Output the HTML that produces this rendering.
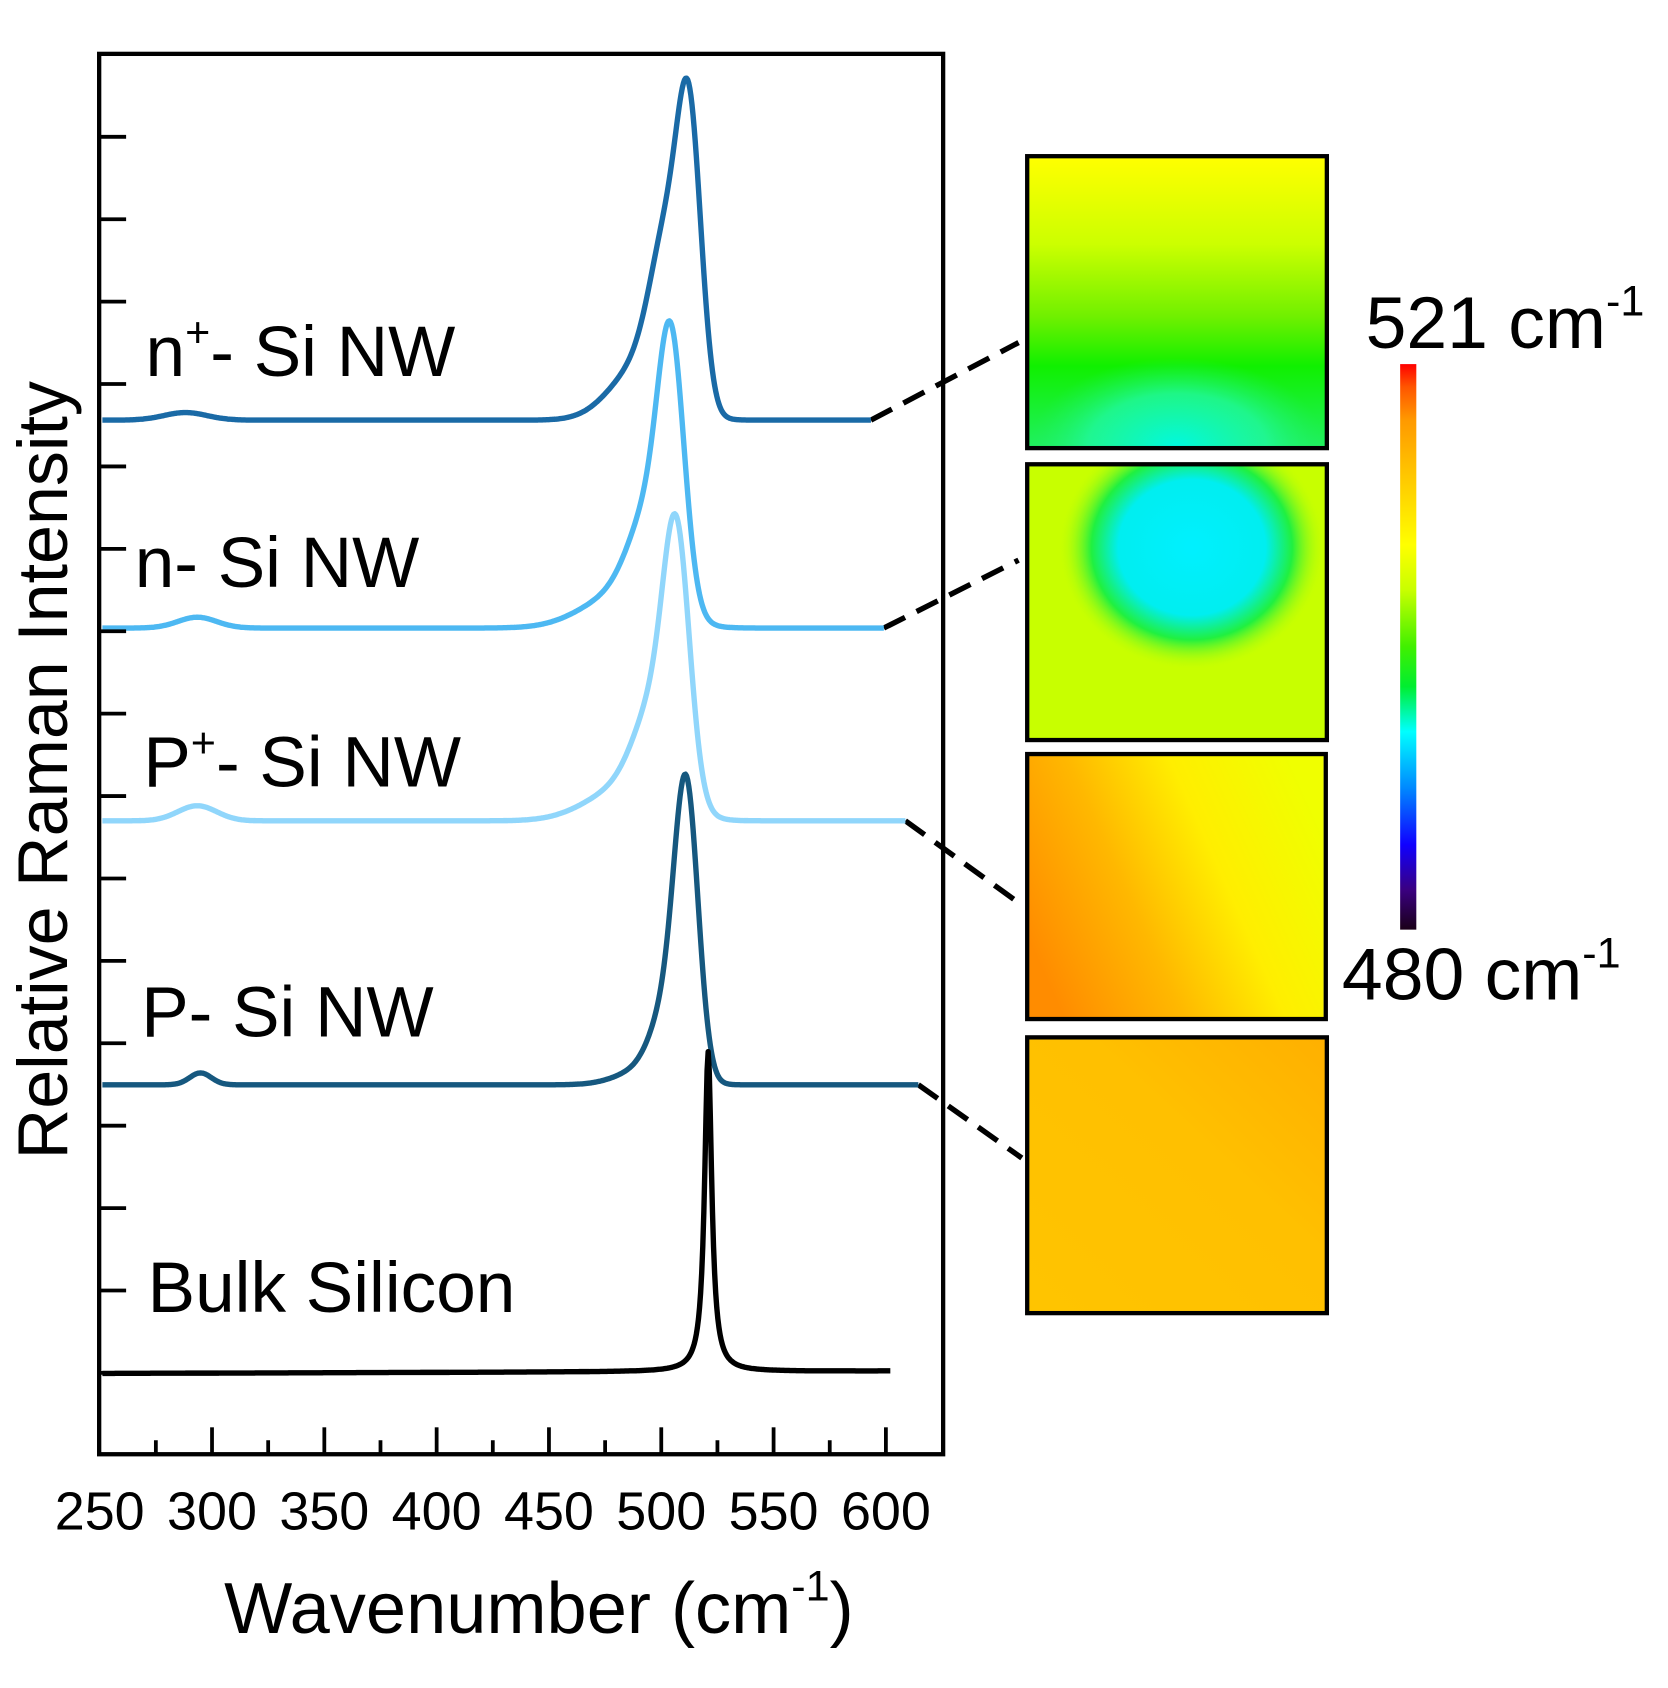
<!DOCTYPE html>
<html><head><meta charset="utf-8"><style>
html,body{margin:0;padding:0;background:#fff;}
svg{display:block;}
text{font-family:"Liberation Sans","DejaVu Sans",sans-serif;fill:#000;}
</style></head><body>
<svg id="s" width="1668" height="1688" viewBox="0 0 1547.5 1567" preserveAspectRatio="none" xmlns="http://www.w3.org/2000/svg">
<defs>
<linearGradient id="cb" x1="0" y1="1" x2="0" y2="0">
<stop offset="0" stop-color="#1a0018"/><stop offset="0.07" stop-color="#3a0080"/><stop offset="0.15" stop-color="#1000ff"/>
<stop offset="0.25" stop-color="#0088ff"/><stop offset="0.35" stop-color="#00ffff"/><stop offset="0.43" stop-color="#00ee30"/>
<stop offset="0.5" stop-color="#40f000"/><stop offset="0.6" stop-color="#c8ff00"/><stop offset="0.68" stop-color="#ffff00"/>
<stop offset="0.8" stop-color="#ffc800"/><stop offset="0.9" stop-color="#ff9a00"/><stop offset="0.96" stop-color="#ff5500"/><stop offset="1" stop-color="#ff0000"/>
</linearGradient>
<linearGradient id="m1" x1="0" y1="0" x2="0" y2="1">
<stop offset="0" stop-color="#ffff00"/><stop offset="0.3" stop-color="#ccff00"/><stop offset="0.55" stop-color="#70f000"/><stop offset="0.72" stop-color="#10f000"/><stop offset="1" stop-color="#20f060"/>
</linearGradient>
<radialGradient id="m1c" cx="0.5" cy="1" r="0.5">
<stop offset="0" stop-color="#00f8e0"/><stop offset="0.6" stop-color="#20f8a0" stop-opacity="0.8"/><stop offset="1" stop-color="#20f060" stop-opacity="0"/>
</radialGradient>
<radialGradient id="m2c" cx="0.55" cy="0.3" r="0.45">
<stop offset="0" stop-color="#00f0ff"/><stop offset="0.55" stop-color="#00eef0"/><stop offset="0.75" stop-color="#20f040"/><stop offset="1" stop-color="#ccff00" stop-opacity="0"/>
</radialGradient>
<linearGradient id="m3" x1="0" y1="0.7" x2="1" y2="0.3">
<stop offset="0" stop-color="#ff8c00"/><stop offset="0.35" stop-color="#ffb800"/><stop offset="0.65" stop-color="#ffee00"/><stop offset="1" stop-color="#f0ff00"/>
</linearGradient>
<linearGradient id="m4" x1="0" y1="1" x2="1" y2="0">
<stop offset="0" stop-color="#ffc400"/><stop offset="0.6" stop-color="#ffc000"/><stop offset="1" stop-color="#ffb000"/>
</linearGradient>
</defs>

<rect x="954" y="146" width="276" height="269" fill="url(#m1)"/>
<rect x="954" y="250" width="276" height="165" fill="url(#m1c)"/>
<rect x="954" y="432" width="276" height="254" fill="#c8ff00"/>
<rect x="954" y="432" width="276" height="254" fill="url(#m2c)"/>
<rect x="954" y="701" width="274" height="244" fill="url(#m3)"/>
<rect x="954" y="964" width="276" height="254" fill="url(#m4)"/>
<g fill="none" stroke="#000" stroke-width="4">
<rect x="953" y="145" width="278" height="271"/>
<rect x="953" y="431" width="278" height="256"/>
<rect x="953" y="700" width="277" height="246"/>
<rect x="953" y="963" width="278" height="256"/>
</g>
<rect x="1299" y="338" width="15" height="525" fill="url(#cb)"/>
<text x="1267" y="323" font-size="68">521 cm<tspan dy="-30" font-size="40">-1</tspan></text>
<text x="1245" y="928" font-size="68">480 cm<tspan dy="-30" font-size="40">-1</tspan></text>

<g stroke="#000" stroke-width="5" stroke-dasharray="22 12" fill="none">
<line x1="808" y1="390" x2="945" y2="318"/>
<line x1="820" y1="583" x2="945" y2="520"/>
<line x1="840" y1="762" x2="945" y2="838"/>
<line x1="852" y1="1007" x2="948" y2="1075"/>
</g>

<g id="curves" fill="none" stroke-width="5" stroke-linejoin="round"></g>

<rect x="92" y="50" width="783" height="1300" fill="none" stroke="#000" stroke-width="4"/>
<g id="ticks" stroke="#000" stroke-width="3.5"></g>

<g font-size="66">
<text x="135" y="349">n<tspan dy="-27" font-size="40">+</tspan><tspan dy="27">- Si NW</tspan></text>
<text x="125" y="545">n- Si NW</text>
<text x="133" y="730">P<tspan dy="-27" font-size="40">+</tspan><tspan dy="27">- Si NW</tspan></text>
<text x="131" y="962">P- Si NW</text>
<text x="137" y="1218">Bulk Silicon</text>
</g>
<g font-size="50" text-anchor="middle" id="xl"></g>
<text x="500" y="1516" font-size="67" text-anchor="middle">Wavenumber (cm<tspan dy="-30" font-size="40">-1</tspan><tspan dy="30">)</tspan></text>
<text transform="translate(62,715) rotate(-90)" font-size="65" text-anchor="middle">Relative Raman Intensity</text>
</svg>
<script>
var NS="http://www.w3.org/2000/svg";
function G(x,c,a,s){return a*Math.exp(-(x-c)*(x-c)/(2*s*s));}
function L(x,c,a,w){var d=(x-c)/w;return a/(1+d*d);}
var specs=[
 {col:"#1a6aa6",base:390,x0:95,x1:808,f:function(x){return G(x,640,230,11)+G(x,620,140,16)+G(x,595,50,28)+G(x,172,7,20);}},
 {col:"#4db8f2",base:583,x0:95,x1:820,f:function(x){return G(x,623,210,12)+G(x,605,90,20)+G(x,575,30,35)+G(x,183,10,18);}},
 {col:"#90d6fb",base:762,x0:95,x1:840,f:function(x){return G(x,628,210,12)+G(x,610,90,20)+G(x,580,30,35)+G(x,183,14,18);}},
 {col:"#16587f",base:1007,x0:95,x1:852,f:function(x){return G(x,637,250,11)+G(x,620,60,15)+G(x,600,15,25)+G(x,186,11,10);}},
 {col:"#000",base:1275,x0:95,x1:826,f:function(x){return L(x,657,297,4)+(x-95)*0.003;}}
];
var cg=document.getElementById("curves");
specs.forEach(function(sp){
 var d="";for(var x=sp.x0;x<=sp.x1;x+=1){var y=sp.base-sp.f(x);d+=(x==sp.x0?"M":"L")+x+" "+y.toFixed(1);}
 var p=document.createElementNS(NS,"path");p.setAttribute("d",d);p.setAttribute("stroke",sp.col);cg.appendChild(p);
});
var tg=document.getElementById("ticks"),xl=document.getElementById("xl");
function ln(a,b,c,d){var l=document.createElementNS(NS,"line");l.setAttribute("x1",a);l.setAttribute("y1",b);l.setAttribute("x2",c);l.setAttribute("y2",d);tg.appendChild(l);}
for(var w=275;w<=600;w+=25){var x=92.5+(w-250)*2.084;ln(x,1350,x,w%50==0?1325:1337);}
for(var w=250;w<=600;w+=50){var t=document.createElementNS(NS,"text");t.setAttribute("x",92.5+(w-250)*2.084);t.setAttribute("y",1420);t.textContent=w;xl.appendChild(t);}
for(var i=0;i<16;i++){var y=127+i*76.5;ln(92,y,117,y);}
</script>
</body></html>
